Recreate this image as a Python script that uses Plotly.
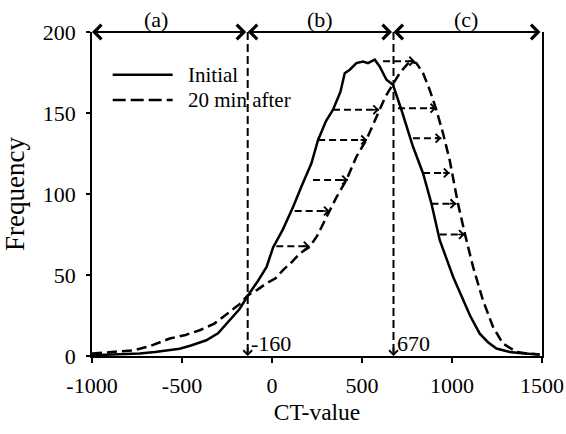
import plotly.graph_objects as go

# CT-value histograms
ct_initial = [-1000, -900, -800, -735, -650, -513, -450, -365, -300, -235, -180, -133,
              -80, -30, 6, 60, 117, 163, 219, 256, 300, 339, 380, 404, 432, 469, 506,
              533, 571, 598, 636, 672, 719, 783, 839, 886, 932, 1006, 1061, 1100, 1154,
              1200, 1247, 1321, 1400, 1487]
freq_initial = [0.5, 0.8, 1.2, 1.5, 2.5, 4.5, 6.5, 9.7, 14, 22, 29, 37.5,
                46, 55, 67, 78, 92, 104.5, 119, 133.4, 145, 152, 163, 174.6, 176.7, 180.8, 181.8,
                180.8, 182.9, 178.7, 170.5, 167.4, 152, 129.3, 112.8, 94, 71.5, 48.9, 34.4, 25, 13.8,
                8.5, 4.6, 2.5, 1.5, 1]

ct_after = [-1000, -900, -772, -680, -568, -480, -402, -320, -235, -180, -133, -80, -31,
            20, 61, 110, 154, 209, 250, 302, 358, 413, 469, 524, 560, 598, 630, 663, 709,
            765, 802, 839, 876, 913, 950, 987, 1033, 1071, 1117, 1172, 1228, 1283, 1358,
            1420, 1487]
freq_after = [1.5, 2.5, 3.5, 6, 10.8, 13, 15.9, 20, 27.2, 32, 37.5, 41, 44.8,
              48, 53, 58, 63.3, 67.4, 74, 86, 98, 108.6, 123, 133.4, 143, 152, 160, 166.4, 174.6,
              181.8, 180.8, 174.6, 164.3, 152, 137.5, 121, 94.2, 75.7, 55, 34.4, 17.9, 7.7, 2.5,
              1.5, 1]

# shift arrows (from initial curve to 20-min curve)
shift_y = [67.8, 89.5, 108.6, 133.4, 152, 182, 153, 134.4, 113, 94, 75]
shift_from = [24, 126, 228, 256, 339, 617, 700, 783, 839, 886, 932]
shift_to = [209, 321, 422, 528, 595, 795, 913, 941, 987, 1024, 1071]

# section boundaries and labels
section_edges = [-1000, -135, 675, 1500]
section_names = ["(a)", "(b)", "(c)"]
section_centers = [-642, 265, 1080]
boundary_x = [-135, 675]
boundary_labels = ["-160", "670"]

x_ticks = [-1000, -500, 0, 500, 1000, 1500]
x_ticktext = ["-1000", "-500", "0", "500", "1000", "1500"]
y_ticks = [0, 50, 100, 150, 200]

FONT = "Liberation Serif, Times New Roman, serif"

fig = go.Figure()

fig.add_trace(go.Scatter(
    x=ct_initial, y=freq_initial, mode="lines", name="Initial",
    line=dict(color="black", width=2.5), showlegend=False
))
fig.add_trace(go.Scatter(
    x=ct_after, y=freq_after, mode="lines", name="20 min after",
    line=dict(color="black", width=2.5, dash="10px,5px"), showlegend=False
))

shapes = []
annotations = []

# dashed shift arrows
for y, x0, x1 in zip(shift_y, shift_from, shift_to):
    shapes.append(dict(type="line", x0=x0, x1=x1, y0=y, y1=y, xref="x", yref="y",
                       line=dict(color="black", width=2, dash="7px,4px")))
    annotations.append(dict(x=x1, y=y, ax=-8, ay=0, text="", showarrow=True,
                            arrowhead=4, arrowsize=1.0, arrowwidth=1.7, arrowcolor="black"))

# vertical boundary lines with downward arrows
for bx, lab in zip(boundary_x, boundary_labels):
    shapes.append(dict(type="line", x0=bx, x1=bx, y0=200, y1=0, xref="x", yref="y",
                       line=dict(color="black", width=2, dash="8px,4px")))
    annotations.append(dict(x=bx, y=0, ax=0, ay=-10, text="", showarrow=True,
                            arrowhead=4, arrowsize=1.0, arrowwidth=1.7, arrowcolor="black"))
    annotations.append(dict(x=bx, y=8, text=lab, showarrow=False, xanchor="left",
                            yanchor="middle", xshift=1, font=dict(family=FONT, size=22, color="black")))

# double-headed section arrows along the top
for i, name in enumerate(section_names):
    annotations.append(dict(x=section_edges[i], y=200, ax=section_edges[i + 1], ay=200,
                            axref="x", ayref="y", text="", showarrow=True, arrowside="end+start",
                            arrowhead=4, arrowsize=1.4, arrowwidth=2, arrowcolor="black"))
    annotations.append(dict(x=section_centers[i], y=200, text=name, showarrow=False,
                            yanchor="middle", yshift=13, borderpad=0,
                            font=dict(family=FONT, size=22, color="black")))

# legend drawn by hand
shapes.append(dict(type="line", x0=-885, x1=-552, y0=173.6, y1=173.6, xref="x", yref="y",
                   line=dict(color="black", width=2.5)))
shapes.append(dict(type="line", x0=-885, x1=-552, y0=158.1, y1=158.1, xref="x", yref="y",
                   line=dict(color="black", width=2.5, dash="13px,5px")))
annotations.append(dict(x=-478, y=173.6, text="Initial", showarrow=False, xanchor="left",
                        font=dict(family=FONT, size=21, color="black")))
annotations.append(dict(x=-478, y=158.1, text="20 min after", showarrow=False, xanchor="left",
                        font=dict(family=FONT, size=21, color="black")))

fig.update_layout(
    width=566, height=434,
    margin=dict(l=92, r=24, t=32, b=78, autoexpand=False),
    paper_bgcolor="white", plot_bgcolor="white",
    font=dict(family=FONT, size=22, color="black"),
    shapes=shapes, annotations=annotations,
    xaxis=dict(range=[-1000, 1500], tickvals=x_ticks, ticktext=x_ticktext, automargin=False,
               showgrid=False, zeroline=False, showline=True, linecolor="black", linewidth=1.5,
               ticks="outside", ticklen=5, tickcolor="black", tickwidth=1.5,
               ticklabelstandoff=4, tickfont=dict(family=FONT, size=22),
               title=dict(text="CT-value", standoff=6, font=dict(family=FONT, size=23.5))),
    yaxis=dict(range=[0, 200], tickvals=y_ticks, automargin=False,
               showgrid=False, zeroline=False, showline=True, mirror=True,
               linecolor="black", linewidth=1.5,
               ticks="outside", ticklen=4, tickcolor="black", tickwidth=1.5,
               ticklabelstandoff=6, tickfont=dict(family=FONT, size=22),
               title=dict(text="Frequency", standoff=12, font=dict(family=FONT, size=27))),
)

# drop the default 8px page margin so the figure fills the window
fig.write_html("out.html", config={"displayModeBar": False},
               post_script="document.body.style.margin='0';document.body.style.overflow='hidden';")
